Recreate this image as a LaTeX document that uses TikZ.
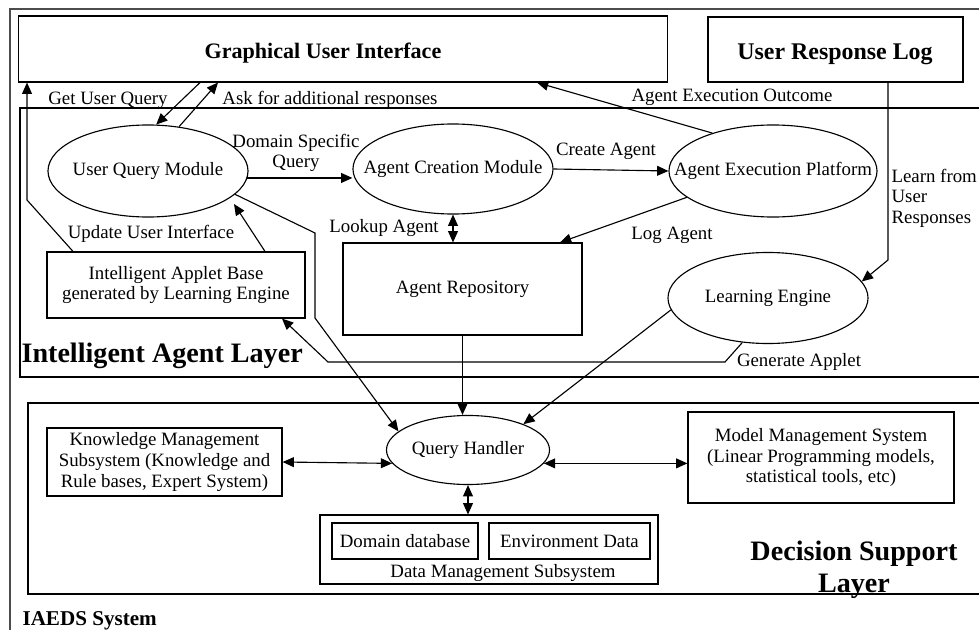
\documentclass[tikz,border=0pt]{standalone}
\usepackage{fontspec}
\setmainfont{Liberation Serif}
\usetikzlibrary{shapes.geometric, arrows.meta}
\newcommand{\lblfont}{\fontsize{13.4}{14.6}\selectfont}
\tikzset{
  module/.style={draw, ellipse, inner sep=0pt, font=\lblfont},
  box/.style={draw, rectangle, inner sep=0pt, align=center, font=\lblfont},
  note/.style={inner sep=0pt, align=center, font=\lblfont},
  heading/.style={inner sep=0pt, align=center, font=\bfseries\fontsize{#1}{22.8}\selectfont}
}

\begin{document}
\begin{tikzpicture}[x=0.025cm, y=-0.025cm, line width=0.8pt, >={Triangle[length=8pt,width=7pt]}]
  \path[use as bounding box, clip] (0,0) rectangle (979,630);
  % system frame and the two layers
  \draw[line width=2pt, black!70] (10,9) rectangle (995,645);
  \draw (20,108) rectangle (995,377);
  \draw (28,403) rectangle (995,594);
  % top boxes
  \node[box, minimum width=16.2cm, minimum height=1.65cm] (gui) at (343,49) {};
  \node[heading=15.7] (guititle) at (323,53) {Graphical User Interface};
  \node[box, minimum width=6.375cm, minimum height=1.625cm] (url) at (835.5,49.5) {};
  \node[heading=17] (urltitle) at (835,54) {User Response Log};
  % intelligent agent layer
  \node[module, minimum width=5cm, minimum height=2.3cm] (uqm) at (148,171) {\makebox[0pt]{User Query Module}};
  \node[module, minimum width=5cm, minimum height=2.25cm] (acm) at (453,169) {\makebox[0pt]{Agent Creation Module}};
  \node[module, minimum width=5.2cm, minimum height=2.3cm] (aep) at (773,171) {\makebox[0pt]{Agent Execution Platform}};
  \node[module, minimum width=5cm, minimum height=2.275cm] (le) at (768,298) {\makebox[0pt]{Learning Engine}};
  \node[box, minimum width=6.45cm, minimum height=1.65cm] (iab) at (176,285) {Intelligent Applet Base\\generated by Learning Engine};
  \node[box, minimum width=5.975cm, minimum height=2.3cm] (ar) at (462.5,289) {Agent Repository};
  \node[heading=20, anchor=base west] (ialtitle) at (21,362) {Intelligent Agent Layer};
  % decision support layer
  \node[module, minimum width=4.075cm, minimum height=1.725cm] (qh) at (468,450) {\makebox[0pt]{Query Handler}};
  \node[box, minimum width=5.875cm, minimum height=1.7cm] (kms) at (164.5,462) {Knowledge Management\\Subsystem (Knowledge and\\Rule bases, Expert System)};
  \node[box, minimum width=6.65cm, minimum height=2.275cm] (mms) at (821,457.5) {Model Management System\\(Linear Programming models,\\statistical tools, etc)};
  \node[box, minimum width=8.45cm, minimum height=1.725cm] (dms) at (489,549.5) {};
  \node[box, minimum width=3.65cm, minimum height=0.9cm] (ddb) at (405,541) {Domain database};
  \node[box, minimum width=4.025cm, minimum height=0.9cm] (env) at (569.5,541) {Environment Data};
  \node[note] (dmstitle) at (503,573) {Data Management Subsystem};
  \node[heading=20] (dsltitle) at (854,570) {Decision Support\\Layer};
  \node[heading=15, anchor=base west] (systitle) at (22,625) {IAEDS System};

  % bend points
  \coordinate (updbend) at (27,200);
  \coordinate (iabtip) at (234,204);
  \coordinate (lrnbend) at (888,260);
  \coordinate (genA) at (725,362);
  \coordinate (genB) at (328,362);
  \coordinate (qryA) at (315,233);
  \coordinate (qryB) at (315,318);

  % connectors
  \draw[->] (200,0 |- gui.south) -- (uqm.80);
  \draw[->] (uqm.55) -- (218,0 |- gui.south);
  \draw[->] (uqm.-4) -- (uqm.-4 -| acm.west);
  \draw[->] (acm.east) -- (aep.west);
  \draw[->] (aep.148) -- (537,0 |- gui.south);
  \draw[<->] (acm.south) -- (acm.south |- ar.north);
  \draw[->] (aep.197) -- (560,0 |- ar.north);
  \draw[->] (888,0 |- url.south) -- (lrnbend) -- (le.10);
  \draw[->] (73,0 |- iab.north) -- (updbend) -- (27,0 |- gui.south);
  \draw[->] (265,0 |- iab.north) -- (iabtip);
  \draw[->] (le.240) -- (genA) -- (genB) -- (282,0 |- iab.south);
  \draw[->] (uqm.-15) -- (qryA) -- (qryB) -- (qh.165);
  \draw[->] (ar.south) -- (ar.south |- qh.north);
  \draw[->] (le.187) -- (qh.25);
  \draw[<->] (kms.east) -- (qh.190);
  \draw[<->] (qh.-10) -- (qh.-10 -| mms.west);
  \draw[<->] (qh.south) -- (qh.south |- dms.north);

  % connector labels
  \node[note] (getq) at (108,100) {Get User Query};
  \node[note] (askq) at (330,100) {Ask for additional responses};
  \node[note] (domq) at (296,153) {Domain Specific\\Query};
  \node[note] (crea) at (606,151) {Create Agent};
  \node[note] (outc) at (732,97) {Agent Execution Outcome};
  \node[note] (look) at (384,228) {Lookup Agent};
  \node[note] (loga) at (672,235) {Log Agent};
  \node[note] (updu) at (151,234) {Update User Interface};
  \node[note] (gena) at (799,362) {Generate Applet};
  \node[note, align=left, anchor=west] (lrnr) at (891,198) {Learn from\\User\\Responses};
\end{tikzpicture}
\end{document}
